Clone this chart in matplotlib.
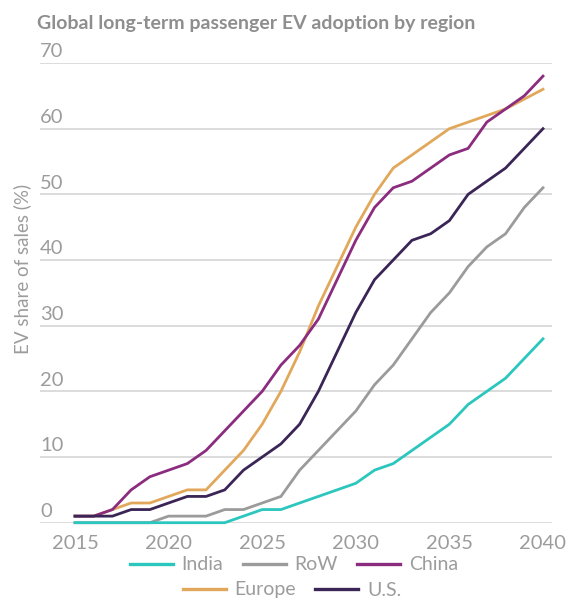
import matplotlib
matplotlib.use("Agg")
import matplotlib.pyplot as plt
from matplotlib.lines import Line2D
import matplotlib.transforms as mtransforms

plt.rcParams['font.family'] = ['Lato', 'DejaVu Sans']

years = list(range(2015, 2041))
india  = [0,0,0,0,0,0,0,0,0,1,2,2,3,4,5,6,8,9,11,13,15,18,20,22,25,28]
row    = [0,0,0,0,0,1,1,1,2,2,3,4,8,11,14,17,21,24,28,32,35,39,42,44,48,51]
china  = [1,1,2,5,7,8,9,11,14,17,20,24,27,31,37,43,48,51,52,54,56,57,61,63,65,68]
europe = [1,1,2,3,3,4,5,5,8,11,15,20,26,33,39,45,50,54,56,58,60,61,62,63,64.5,66]
us     = [1,1,1,2,2,3,4,4,5,8,10,12,15,20,26,32,37,40,43,44,46,50,52,54,57,60]

y_ticks = [0, 10, 20, 30, 40, 50, 60, 70]
x_ticks = [2015, 2020, 2025, 2030, 2035, 2040]

title = "Global long-term passenger EV adoption by region"
ylabel = "EV share of sales (%)"

colors = {
    'India': '#2bc6bd',
    'RoW': '#9b9b9b',
    'China': '#8b2c7e',
    'Europe': '#e1a85c',
    'U.S.': '#3a2556',
}
TXT = '#9c9c9c'

W, H = 571, 601
fig = plt.figure(figsize=(W/100, H/100), dpi=100)
left, right, top, bottom = 40, 552, 63, 522.7
ax = fig.add_axes([left/W, (H-bottom)/H, (right-left)/W, (bottom-top)/H])

ax.set_xlim(2015 - 35/18.72, 2040 + 9/18.72)
ax.set_ylim(0, 70)
for s in ax.spines.values():
    s.set_visible(False)

for v in y_ticks:
    ax.axhline(v, color='#dcdcdc', lw=1.4, zorder=0)

series = [('Europe', europe), ('China', china), ('RoW', row), ('India', india), ('U.S.', us)]
for name, vals in series:
    ax.plot(years, vals, color=colors[name], lw=2.0, clip_on=False, zorder=3,
            solid_joinstyle='miter')

ax.set_yticks([])
ax.set_xticks(x_ticks)
ax.set_xticklabels([str(x) for x in x_ticks], fontsize=14.5, color=TXT)
ax.tick_params(axis='x', length=0, pad=9)

off = mtransforms.offset_copy(ax.get_yaxis_transform(), fig=fig, x=0, y=4.2, units='points')
for v in y_ticks:
    ax.text(0, v, str(v), transform=off, ha='left', va='baseline', fontsize=14.5, color=TXT)

ax.text(-0.035, 0.553, ylabel, transform=ax.transAxes, rotation=90, ha='center', va='center',
        fontsize=13.5, color=TXT)

fig.text(37/W, 1 - 29/H, title, ha='left', va='baseline', fontsize=14, fontweight='bold', color='#8e8e8e')

def handles(names):
    return [Line2D([0], [0], color=colors[n], lw=2.4) for n in names]

row1 = ['India', 'RoW', 'China']
row2 = ['Europe', 'U.S.']
kw = dict(frameon=False, fontsize=14, handlelength=2.2, handletextpad=0.45,
          columnspacing=1.0, borderpad=0, borderaxespad=0, labelcolor=TXT, loc='center')
leg1 = fig.legend(handles(row1), row1, ncol=3, bbox_to_anchor=(294/W, 1 - 565/H), **kw)
leg2 = fig.legend(handles(row2), row2, ncol=2, bbox_to_anchor=(292/W, 1 - 590/H), **kw)

fig.savefig('out.png', dpi=100)
